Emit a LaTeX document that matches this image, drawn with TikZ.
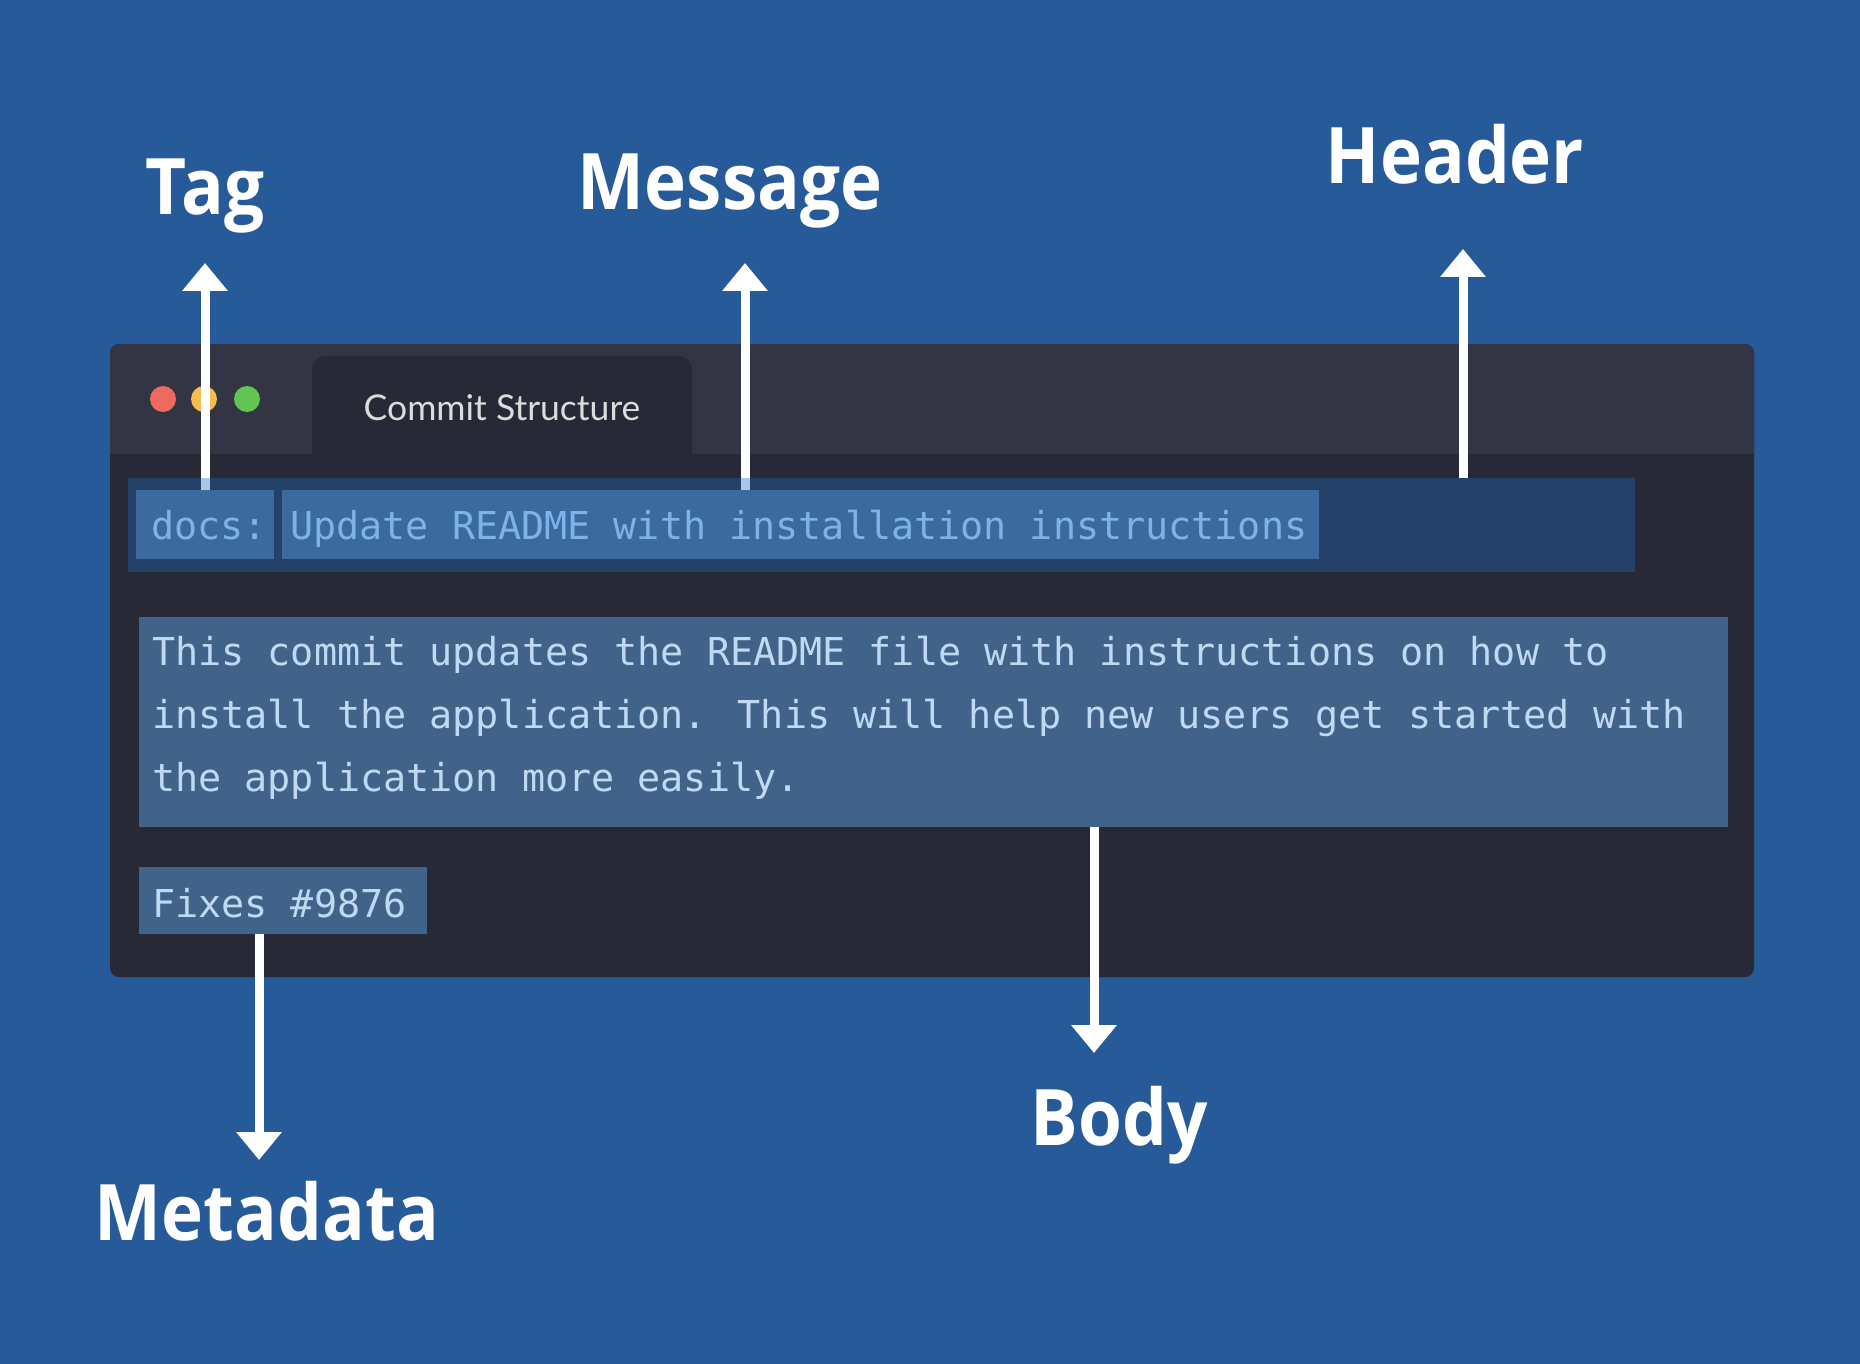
\documentclass[tikz,border=0pt]{standalone}
\usepackage{fontspec}
\usetikzlibrary{arrows.meta}
\newfontfamily\lblfont{Open Sans}[FakeStretch=0.91]
\newfontfamily\monofont{DejaVu Sans Mono}
\newfontfamily\tabfont{Lato}
\definecolor{bg}{HTML}{265A99}
\definecolor{titlebar}{HTML}{333544}
\definecolor{winbody}{HTML}{272A36}
\definecolor{hdrband}{HTML}{254169}
\definecolor{hdrbox}{HTML}{3A6A9E}
\definecolor{bodybox}{HTML}{41638A}
\definecolor{hdrtext}{HTML}{7DB3E8}
\definecolor{bodytext}{HTML}{BFD9F2}
\definecolor{tabtext}{HTML}{DCDCDC}
\definecolor{dotred}{HTML}{EE6A5F}
\definecolor{dotyellow}{HTML}{F5BE4F}
\definecolor{dotgreen}{HTML}{61C554}
\definecolor{lineblue}{HTML}{A9C8E8}
\begin{document}
\begin{tikzpicture}[x=1pt,y=-1pt,
  lbl/.style={text=white, font=\lblfont\bfseries\fontsize{78}{80}\selectfont, inner sep=0pt, anchor=base},
  arr/.style={draw=white, line width=9pt, -{Triangle[width=44pt,length=28pt]}},
  boxnode/.style={minimum width=#1, inner sep=0pt, anchor=north west, outer sep=0pt},
  hdrfont/.style={text=hdrtext, font=\monofont\fontsize{38.4}{40}\selectfont, inner sep=0pt, anchor=base west},
  bodyfont/.style={text=bodytext, font=\monofont\fontsize{38.4}{63}\selectfont, inner sep=0pt, anchor=base west},
  dot/.style={circle, minimum size=26pt, inner sep=0pt}
]
\useasboundingbox (0,0) rectangle (1860,1364);
\fill[bg] (0,0) rectangle (1860,1364);

% window
\fill[winbody, rounded corners=9pt] (110,344) rectangle (1754,977);
\fill[titlebar] (110,470) [rounded corners=9pt] -- (110,344) -- (1754,344) [sharp corners] -- (1754,470) -- cycle;
\fill[winbody] (110,454) rectangle (1754,480);
% tab
\fill[winbody] (312,470) [rounded corners=13pt] -- (312,356) -- (692,356) [sharp corners] -- (692,470) -- cycle;
\node[text=tabtext, font=\tabfont\fontsize{35.5}{38}\selectfont, inner sep=0pt, anchor=base] (tabtitle) at (502,420) {Commit Structure};

% dots
\node[dot, fill=dotred] (red) at (163,399) {};
\node[dot, fill=dotyellow] (yellow) at (204,399) {};
\node[dot, fill=dotgreen] (green) at (247,399) {};

% header band and boxes
\node[boxnode=1507pt, minimum height=94pt, fill=hdrband] (hdr) at (128,478) {};
\node[boxnode=138pt, minimum height=69pt, fill=hdrbox] (docs) at (136,490) {};
\node[boxnode=1037pt, minimum height=69pt, fill=hdrbox] (msg) at (282,490) {};
\node[hdrfont] (docstext) at (151,539) {docs:};
\node[hdrfont] (msgtext) at (290,539) {Update README with installation instructions};

% body box
\node[boxnode=1589pt, minimum height=210pt, fill=bodybox] (body) at (139,617) {};
\node[bodyfont, align=left] (bodytxt) at (152,791) {This commit updates the README file with instructions on how to\\install the application. This will help new users get started with\\the application more easily.};

% fixes box
\node[boxnode=288pt, minimum height=67pt, fill=bodybox] (fixes) at (139,867) {};
\node[hdrfont, text=bodytext] (fixestext) at (152,917) {Fixes \#9876};

% labels
\node[lbl] (tag) at (205,215) {Tag};
\node[lbl] (message) at (730,210) {Message};
\node[lbl] (header) at (1455,184) {Header};
\node[lbl] (bodylbl) at (1119,1145) {Body};
\node[lbl] (metadata) at (267,1240) {Metadata};

% arrow end points
\coordinate (tagtip) at (205,263);
\coordinate (msgtip) at (745,263);
\coordinate (hdrtip) at (1463,249);
\coordinate (bodytip) at (1094,1053);
\coordinate (metatip) at (259,1160);

% arrows
\draw[arr] (docs.north -| tagtip) -- (tagtip);
\draw[line width=9pt, draw=lineblue] (docs.north -| tagtip) -- (hdr.north -| tagtip);
\draw[arr] (msg.north -| msgtip) -- (msgtip);
\draw[line width=9pt, draw=lineblue] (msg.north -| msgtip) -- (hdr.north -| msgtip);
\draw[arr] (hdr.north -| hdrtip) -- (hdrtip);
\draw[arr] (body.south -| bodytip) -- (bodytip);
\draw[arr] (fixes.south -| metatip) -- (metatip);
\end{tikzpicture}
\end{document}
